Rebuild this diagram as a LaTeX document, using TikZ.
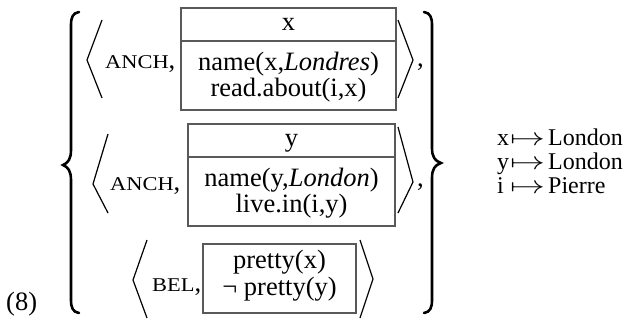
\documentclass[tikz,border=0pt]{standalone}
\usepackage{fontspec}
\setmainfont{Liberation Serif}
\usepackage{graphicx}
\newcommand{\fakesc}[1]{\scalebox{1.15}[1]{\fontsize{19.5}{19.5}\selectfont #1}}
\newcommand{\bigmapsto}{\scalebox{1.4}[1]{$\mapsto$}}
\tikzset{
  txt/.style={inner sep=0pt, font=\fontsize{26.5}{26.5}\selectfont, anchor=base},
  lbl/.style={inner sep=0pt, font=\fontsize{26.5}{26.5}\selectfont, anchor=base west},
  ann/.style={inner sep=0pt, font=\fontsize{24}{24}\selectfont, anchor=base west},
  boxline/.style={draw=black!65, line width=1.1pt},
  angl/.style={line width=1.2pt, line join=miter},
  brace/.style={line width=2.6pt, line cap=round},
}
\begin{document}
\begin{tikzpicture}[x=1pt,y=-1pt]
\useasboundingbox (0,0) rectangle (627,324);

% label
\node[lbl] (num) at (6,310) {(8)};

% big braces
\draw[brace] (79,12) .. controls (73,13) and (71,17) .. (71,25) -- (71,150)
  .. controls (71,159) and (68,163) .. (63,165)
  .. controls (68,167) and (71,171) .. (71,180) -- (71,300)
  .. controls (71,308) and (73,312) .. (79,313);
\draw[brace] (424,12) .. controls (430,13) and (432,17) .. (432,25) -- (432,148)
  .. controls (432,157) and (435,161) .. (441,163)
  .. controls (435,165) and (432,169) .. (432,178) -- (432,300)
  .. controls (432,308) and (430,312) .. (424,313);

% row 1
\draw[angl] (102,20) -- (87,60) -- (102,98);
\node[lbl] (anch1) at (105,68) {\fakesc{ANCH},};
\draw[boxline] (181,8) rectangle (396,110);
\draw[boxline] (181,41) -- (396,41);
\node[txt] (x1) at (288.5,30.5) {x};
\node[txt] (n1) at (288.5,70.7) {name(x,\textit{Londres})};
\node[txt] (r1) at (288.5,96.7) {read.about(i,x)};
\draw[angl] (398,20) -- (413,60) -- (398,98);
\node[lbl] (c1) at (417,66) {,};

% row 2
\draw[angl] (108,134) -- (93,184) -- (108,213);
\node[lbl] (anch2) at (110,190) {\fakesc{ANCH},};
\draw[boxline] (188,124) rectangle (395,226);
\draw[boxline] (188,157) -- (395,157);
\node[txt] (y2) at (291.5,146.5) {y};
\node[txt] (n2) at (291.5,186.7) {name(y,\textit{London})};
\node[txt] (l2) at (291.5,212.7) {live.in(i,y)};
\draw[angl] (398,127) -- (413,182) -- (398,213);
\node[lbl] (c2) at (417,186) {,};

% row 3
\draw[angl] (147,240) -- (133,280) -- (147,318);
\node[lbl] (bel) at (152,291) {\fakesc{BEL},};
\draw[boxline] (203,244) rectangle (356,313);
\node[txt] (p3) at (279.5,268) {pretty(x)};
\node[txt] (q3) at (279.5,295) {¬ pretty(y)};
\draw[angl] (360,240) -- (373,279) -- (360,318);

% assignments
\node[ann] (vx) at (497,145) {x};
\node[ann] (ax) at (510,145) {\bigmapsto};
\node[ann] (wx) at (548,145) {London};
\node[ann] (vy) at (497,169) {y};
\node[ann] (ay) at (510,169) {\bigmapsto};
\node[ann] (wy) at (548,169) {London};
\node[ann] (vi) at (497,193) {i};
\node[ann] (ai) at (510,193) {\bigmapsto};
\node[ann] (wi) at (548,193) {Pierre};
\end{tikzpicture}
\end{document}
